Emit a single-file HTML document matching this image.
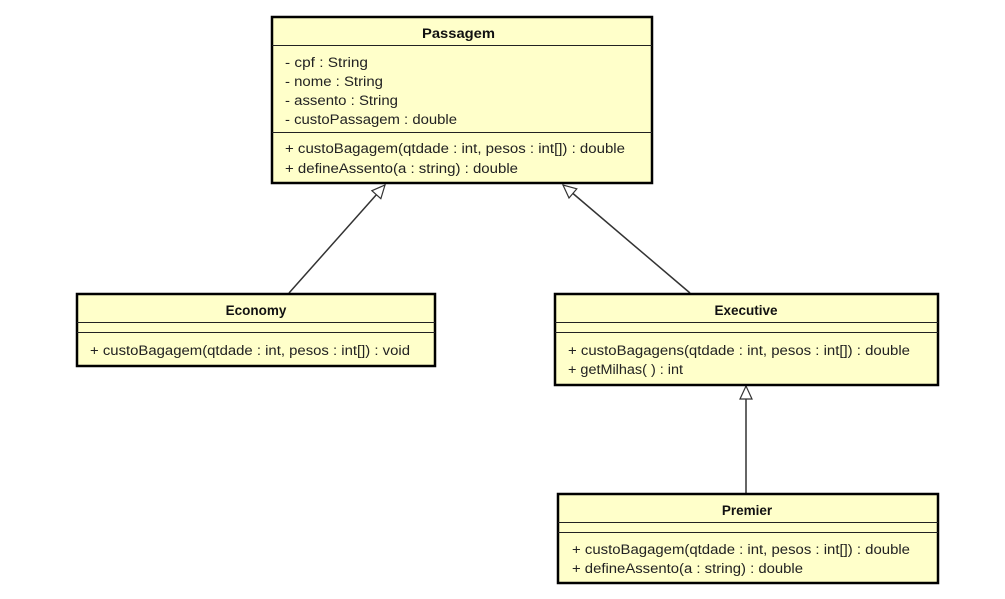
<!DOCTYPE html>
<html><head><meta charset="utf-8"><style>
html,body{margin:0;padding:0;background:#fff;}
svg{display:block;}
text{font-family:"Liberation Sans",sans-serif;font-size:13.5px;fill:#222;}
.t{font-weight:bold;font-size:13.5px;fill:#111;}
</style></head><body>
<svg width="1005" height="599" viewBox="0 0 1005 599" xmlns="http://www.w3.org/2000/svg">
<defs>
<marker id="tri" markerWidth="16" markerHeight="14" refX="14" refY="7" orient="auto" markerUnits="userSpaceOnUse">
<path d="M1,1 L14,7 L1,13 Z" fill="#fff" stroke="#333" stroke-width="1.2"/>
</marker>
</defs>
<g stroke="#333" stroke-width="1.5" fill="none">
<line x1="289" y1="293" x2="385" y2="185" marker-end="url(#tri)"/>
<line x1="690" y1="293" x2="563" y2="185" marker-end="url(#tri)"/>
<line x1="746" y1="493" x2="746" y2="386" marker-end="url(#tri)"/>
</g>
<g fill="#ffffca" stroke="#000" stroke-width="2.5">
<rect x="272" y="17" width="380" height="166"/>
<rect x="77" y="294" width="358" height="72"/>
<rect x="555" y="294" width="383" height="91"/>
<rect x="558" y="494" width="380" height="89"/>
</g>
<g stroke="#222" stroke-width="1">
<line x1="272" y1="45.5" x2="652" y2="45.5"/>
<line x1="272" y1="132.5" x2="652" y2="132.5"/>
<line x1="77" y1="322.5" x2="435" y2="322.5"/>
<line x1="77" y1="332.5" x2="435" y2="332.5"/>
<line x1="555" y1="322.5" x2="938" y2="322.5"/>
<line x1="555" y1="332.5" x2="938" y2="332.5"/>
<line x1="558" y1="522.5" x2="938" y2="522.5"/>
<line x1="558" y1="532.5" x2="938" y2="532.5"/>
</g>
<text class="t" x="422" y="38" textLength="73" lengthAdjust="spacingAndGlyphs">Passagem</text>
<text x="285" y="67" textLength="83" lengthAdjust="spacingAndGlyphs">- cpf : String</text>
<text x="285" y="86" textLength="98" lengthAdjust="spacingAndGlyphs">- nome : String</text>
<text x="285" y="105" textLength="113" lengthAdjust="spacingAndGlyphs">- assento : String</text>
<text x="285" y="124" textLength="172" lengthAdjust="spacingAndGlyphs">- custoPassagem : double</text>
<text x="285" y="153" textLength="340" lengthAdjust="spacingAndGlyphs">+ custoBagagem(qtdade : int, pesos : int[]) : double</text>
<text x="285" y="173" textLength="233" lengthAdjust="spacingAndGlyphs">+ defineAssento(a : string) : double</text>
<text class="t" x="256" y="315" text-anchor="middle">Economy</text>
<text x="90" y="355" textLength="320" lengthAdjust="spacingAndGlyphs">+ custoBagagem(qtdade : int, pesos : int[]) : void</text>
<text class="t" x="746" y="315" text-anchor="middle">Executive</text>
<text x="568" y="355" textLength="342" lengthAdjust="spacingAndGlyphs">+ custoBagagens(qtdade : int, pesos : int[]) : double</text>
<text x="568" y="374" textLength="115" lengthAdjust="spacingAndGlyphs">+ getMilhas( ) : int</text>
<text class="t" x="747" y="515" text-anchor="middle">Premier</text>
<text x="572" y="554" textLength="338" lengthAdjust="spacingAndGlyphs">+ custoBagagem(qtdade : int, pesos : int[]) : double</text>
<text x="572" y="573" textLength="231" lengthAdjust="spacingAndGlyphs">+ defineAssento(a : string) : double</text>
</svg>
</body></html>
